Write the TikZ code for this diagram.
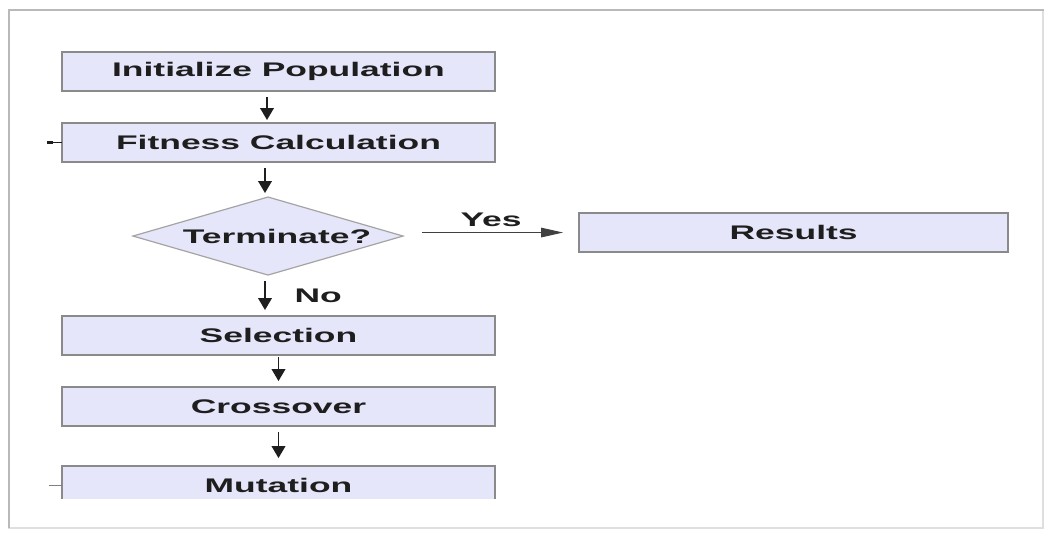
\documentclass[tikz,border=0pt]{standalone}
\usepackage{fontspec}
\setmainfont{Liberation Sans}
\usepackage{graphicx}
\usepackage{tikz}
\usetikzlibrary{shapes.geometric, arrows.meta, positioning, calc}
\definecolor{lav}{HTML}{E6E6FA}
\definecolor{boxgray}{HTML}{8A8A8A}
\definecolor{diagray}{HTML}{A4A4A4}
\definecolor{ink}{HTML}{1E1E1E}
\newcommand{\labelfont}{\bfseries\fontsize{14}{16}\selectfont\color{ink}}
\newcommand{\stretchtext}[1]{\scalebox{1.8}[1]{#1}}
\tikzstyle{box} = [rectangle, minimum width=10.825cm, minimum
height=0.975cm, inner sep=0pt, outer sep=0pt, text centered,
draw=boxgray, fill=lav, line width=0.04cm, font=\labelfont]
\tikzstyle{decide} = [diamond, aspect=3.5, minimum width=6.75cm,
minimum height=1.95cm, inner sep=0pt, outer sep=0pt, draw=diagray,
fill=lav, line width=0.03cm, font=\labelfont]
\tikzstyle{arrow} = [line width=0.045cm, draw=ink,
-{Triangle[length=0.3cm,width=0.34cm]}]
\tikzstyle{yesarrow} = [line width=0.025cm, draw=ink!85,
-{Triangle[length=0.55cm,width=0.24cm]}]
\tikzstyle{stub} = [line width=0.025cm, draw=gray]

\begin{document}
\begin{tikzpicture}[x=0.025cm, y=-0.025cm]
    \useasboundingbox (0,0) rectangle (1044,532);
    % frame of the cut-out
    \draw [gray!25, line width=0.03cm] (9,10) rectangle (1043,528);
    \draw [gray!55, line width=0.05cm] (9,528) -- (9,10) -- (1044,10);

    \node (I) [box] at (278.5,71.5) {\stretchtext{Initialize Population}};
    \node (F) [box, below=0.8cm of I] {\stretchtext{Fitness Calculation}};
    \node (T) [decide, below=0.875cm of F, xshift=-0.2625cm]
    {\hspace*{0.45cm}\stretchtext{Terminate?}};
    \node (R) [box, minimum width=10.725cm, right=4.4cm of T,
      yshift=0.0875cm] {\stretchtext{Results}};
    \node (S) [box, below=1.025cm of T, xshift=0.2625cm]
    {\stretchtext{Selection}};
    \node (C) [box, below=0.8cm of S] {\stretchtext{Crossover}};
    \begin{scope}
      \clip (0,0) rectangle (1044,498); % the picture is cut here
      \node (M) [box, below=1.0cm of C] {\stretchtext{Mutation}};
    \end{scope}

    \coordinate (FS) at ([xshift=-0.375cm]F.west);
    \coordinate (MS) at ([xshift=-0.325cm]M.west);

    \draw [arrow, shorten <=0.15cm, shorten >=0.075cm]
    ([xshift=-0.2875cm]I.south) -- ([xshift=-0.2875cm]F.north);
    \draw [arrow, shorten <=0.15cm, shorten >=0.1cm]
    ([xshift=-0.3375cm]F.south) -- ([xshift=-0.3375cm]F.south |- T.north);
    \draw [arrow, shorten <=0.15cm, shorten >=0.15cm]
    ([xshift=-0.075cm]T.south) -- node[right=0.6cm, font=\labelfont]
    {\stretchtext{No}} ([xshift=-0.075cm]T.south |- S.north);
    \draw [arrow, shorten <=0.05cm, shorten >=0.15cm] (S) -- (C);
    \draw [arrow, shorten <=0.15cm, shorten >=0.2cm] (C) -- (M);
    \draw [yesarrow, shorten <=0.475cm, shorten >=0.4cm]
    (T.east |- R.west) -- node[above=0.02cm, font=\labelfont]
    {\stretchtext{Yes}} (R.west);

    \draw [stub, draw=ink] (FS) -- (F.west);
    \draw [stub, draw=ink, line width=0.07cm] (FS) -- ([xshift=0.15cm]FS);
    \draw [stub] (MS) -- (M.west);

  \end{tikzpicture}
\end{document}
